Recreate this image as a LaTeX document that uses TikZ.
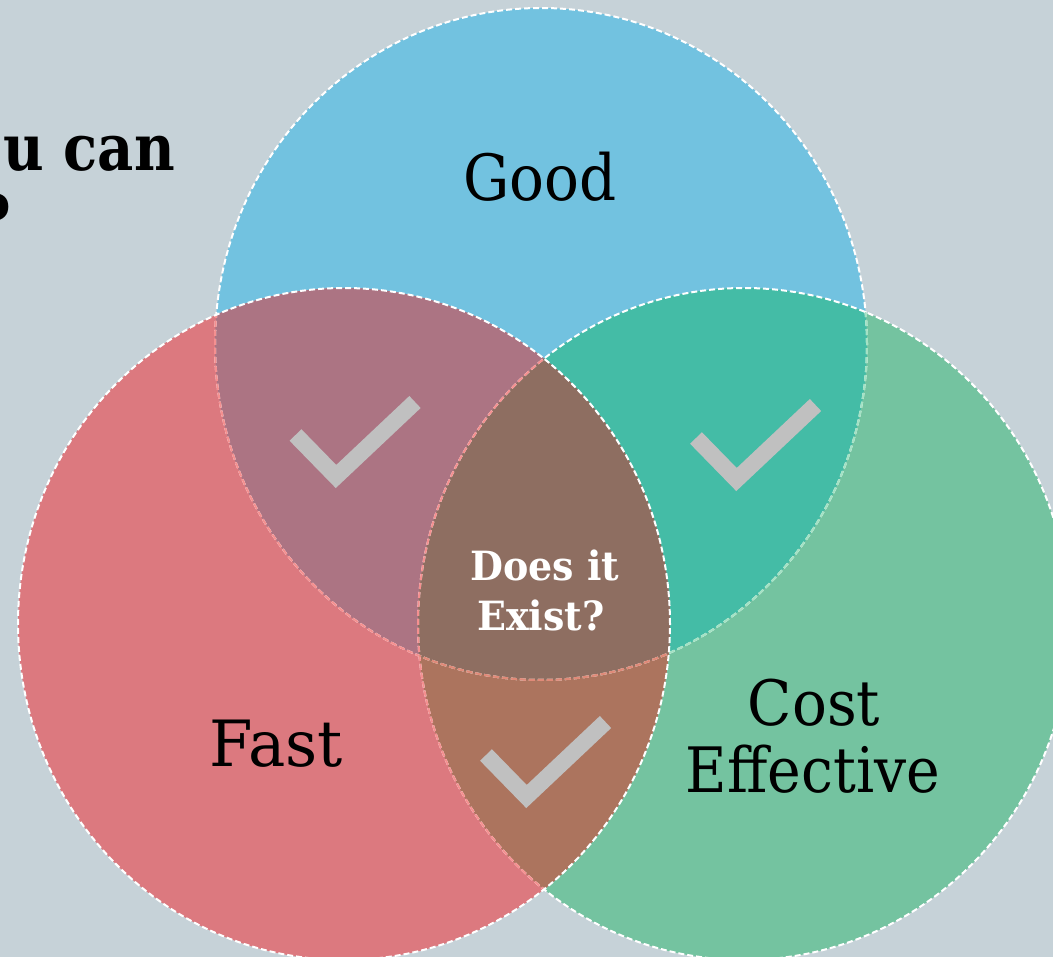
\documentclass[tikz,border=0pt]{standalone}
\usepackage{fontspec}
\setmainfont{DejaVu Serif}
\definecolor{bgc}{HTML}{C6D2D8}
\definecolor{bluec}{HTML}{72C2E0}
\definecolor{redc}{HTML}{DC797F}
\definecolor{greenc}{HTML}{74C3A0}
\definecolor{rbc}{HTML}{AC7483}
\definecolor{gbc}{HTML}{44BCA6}
\definecolor{rgc}{HTML}{AC745E}
\definecolor{rgbc}{HTML}{8E6E61}
\definecolor{tickc}{HTML}{C0C0C0}
\definecolor{edgeg}{HTML}{A4E2C4}
\definecolor{edgep}{HTML}{F59090}
\definecolor{edges}{HTML}{E08A78}
\tikzset{
  edge/.style={line width=2pt, dash pattern=on 6pt off 3pt},
  tickmark/.style={draw=tickc, line width=16.5pt, line join=miter, line cap=butt},
  checkmark/.pic={\draw[tickmark] (-40.5,-41.5) -- (0,0) -- (79,-74.5);},
  lbl/.style={font=\fontsize{58}{58}\selectfont, inner sep=0pt, anchor=base, text=black},
  qlbl/.style={font=\bfseries\fontsize{38}{38}\selectfont, inner sep=0pt, anchor=base, text=white},
  ttl/.style={font=\bfseries\fontsize{56}{56}\selectfont, inner sep=0pt, anchor=base east, text=black},
}
\def\Bpath{(541,344) ellipse [x radius=326pt, y radius=336pt]}
\def\Rpath{(344,624) ellipse [x radius=326pt, y radius=336pt]}
\def\Gpath{(744,624) ellipse [x radius=326pt, y radius=336pt]}
\begin{document}
\begin{tikzpicture}[x=1pt, y=-1pt]
\useasboundingbox (0,0) rectangle (1053,957);
\clip (0,0) rectangle (1053,957);
\fill[bgc] (0,0) rectangle (1053,957);
% single regions
\fill[bluec] \Bpath;
\fill[greenc] \Gpath;
\fill[redc] \Rpath;
% pairwise overlaps
\begin{scope}
  \clip \Bpath;
  \fill[gbc] \Gpath;
  \fill[rbc] \Rpath;
\end{scope}
\begin{scope}
  \clip \Rpath;
  \fill[rgc] \Gpath;
\end{scope}
\begin{scope}
  \clip \Bpath;
  \clip \Rpath;
  \fill[rgbc] \Gpath;
\end{scope}
% borders
\draw[edge, white] \Bpath;
\begin{scope}
  \clip \Gpath;
  \draw[edge, edgeg] \Bpath;
\end{scope}
\draw[edge, white] \Gpath;
\begin{scope}
  \clip \Rpath;
  \draw[edge, edgep] \Bpath;
  \draw[edge, edgep] \Gpath;
\end{scope}
\begin{scope}
  \clip \Rpath;
  \clip \Gpath;
  \draw[edge, edges] \Bpath;
\end{scope}
\draw[edge, white] \Rpath;
% check marks
\pic at (336,476.5) {checkmark};
\pic at (736.5,479.5) {checkmark};
\pic at (526.5,796.5) {checkmark};
% labels
\node[lbl] (good) at (540,201) {\scalebox{1}[1.1]{Good}};
\node[lbl] (fast) at (276,766) {\scalebox{1.08}[1.1]{Fast}};
\node[lbl] (cost) at (814,725) {\scalebox{1}[1.08]{Cost}};
\node[lbl] (effective) at (813,792) {\scalebox{0.98}[1.08]{Effective}};
\node[qlbl] (does) at (545,580) {\scalebox{1}[1.06]{Does it}};
\node[qlbl] (exist) at (541,630) {\scalebox{1}[1.06]{Exist?}};
\node[ttl] (title1) at (175,171) {\scalebox{1}[1.15]{u can}};
\node[ttl] (title2) at (12,242) {\scalebox{1}[1.15]{?}};
\end{tikzpicture}
\end{document}
